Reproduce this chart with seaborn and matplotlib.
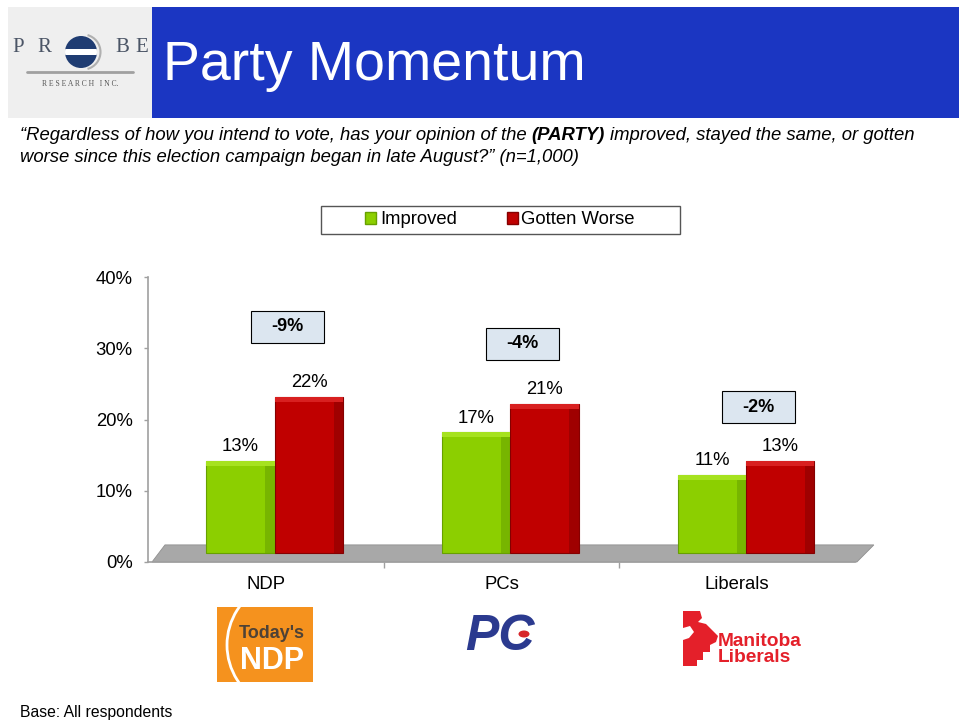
import matplotlib
matplotlib.use("Agg")
import matplotlib.pyplot as plt
import seaborn as sns
import pandas as pd
from matplotlib.patches import Rectangle, Polygon, Patch, Circle, Arc, Ellipse

# ---- data ----
parties = ["NDP", "PCs", "Liberals"]
series = ["Improved", "Gotten Worse"]
improved = [13, 17, 11]
worse = [22, 21, 13]
y_ticks = [0, 10, 20, 30, 40]

# heights of the difference boxes (layout only)
box_y = [33.0, 30.6, 21.7]

df = pd.DataFrame({
    "party": parties * 2,
    "response": [series[0]] * 3 + [series[1]] * 3,
    "pct": improved + worse,
})

GREEN, GREEN_D, GREEN_L = "#8CCF00", "#67A000", "#A6E21F"
RED, RED_D, RED_L = "#C00000", "#850000", "#D82020"
GRAY = "#A0A0A0"

sns.set_theme(style="white")
plt.rcParams["font.family"] = ["Liberation Sans", "DejaVu Sans"]
plt.rcParams["text.color"] = "black"
plt.rcParams["xtick.color"] = "black"
plt.rcParams["ytick.color"] = "black"

W, H = 959, 721
fig = plt.figure(figsize=(W / 100, H / 100), dpi=100)

# overlay in pixel coordinates for header, logos, legend frame
ov = fig.add_axes([0, 0, 1, 1], zorder=-1)
ov.set_xlim(0, W)
ov.set_ylim(H, 0)
ov.axis("off")

# ==========================
# MAIN CHART
# ==========================
ax = fig.add_axes([148 / W, 1 - 562 / H, (855 - 148) / W, (562 - 277) / H])
ax.patch.set_alpha(0)

sns.barplot(data=df, x="party", y="pct", hue="response", hue_order=series,
            palette=[GREEN, RED], width=0.58, saturation=1, legend=False, ax=ax)

BASE = 1.2     # bars stand on the 3D floor
SHIFT = 0.038  # perspective offset

for cont, dark, light in zip(ax.containers, [GREEN_D, RED_D], [GREEN_L, RED_L]):
    for bar in list(cont):
        bar.set_y(BASE)
        bar.set_x(bar.get_x() + SHIFT)
        bar.set_edgecolor(dark)
        bar.set_linewidth(0.8)
        bar.set_zorder(3)
        x0, w, h = bar.get_x(), bar.get_width(), bar.get_height()
        ax.add_patch(Rectangle((x0 + w * 0.86, BASE), w * 0.14, h, fc=dark,
                               ec="none", alpha=0.55, zorder=3.1))
        ax.add_patch(Rectangle((x0, BASE + h - 0.7), w, 0.7, fc=light,
                               ec="none", zorder=3.1))
        ax.text(x0 + w / 2, BASE + h + 2.0, f"{h:.0f}%", ha="center", va="center",
                fontsize=13.3, color="black", zorder=4)

# floor
ax.add_patch(Polygon([(-0.483, 0), (-0.428, 2.4), (2.58, 2.4), (2.508, 0)],
                     closed=True, fc="#A8A8A8", ec="#909090", lw=0.6,
                     clip_on=False, zorder=1))

# difference boxes
for i, (a, b) in enumerate(zip(improved, worse)):
    cx, cy = i + 0.09, box_y[i]
    ax.add_patch(Rectangle((cx - 0.155, cy - 2.25), 0.31, 4.5, fc="#DCE6F0",
                           ec="black", lw=0.8, zorder=4))
    ax.text(cx, cy, f"{a - b}%", ha="center", va="center", fontsize=13,
            fontweight="bold", zorder=5)

ax.set_xlim(-0.5, 2.5)
ax.set_ylim(0, 40)
ax.set_xlabel("")
ax.set_ylabel("")
ax.set_yticks(y_ticks)
ax.set_yticklabels([f"{v}%" for v in y_ticks])
ax.set_xticks(range(len(parties)))
ax.set_xticklabels(parties)
ax.set_xticks([0.5, 1.5], minor=True)
ax.tick_params(axis="y", left=True, length=3, width=1, color=GRAY, pad=8,
               labelsize=13.3, labelcolor="black")
ax.tick_params(axis="x", which="major", length=0, pad=10, labelsize=13.3,
               labelcolor="black")
ax.tick_params(axis="x", which="minor", bottom=True, length=4, width=1, color=GRAY)
for s in ["top", "right"]:
    ax.spines[s].set_visible(False)
for s in ["left", "bottom"]:
    ax.spines[s].set_color(GRAY)
    ax.spines[s].set_linewidth(1.2)

# legend
ov.add_patch(Rectangle((321, 206), 359, 28, fc="white", ec="#555555", lw=1))
handles = [Patch(fc=GREEN, ec=GREEN_D), Patch(fc=RED, ec=RED_D)]
fig.legend(handles, series, loc="center", bbox_to_anchor=(500 / W, 1 - 220 / H),
           ncol=2, frameon=False, fontsize=13.3, handlelength=0.6,
           handleheight=0.6, handletextpad=0.2, columnspacing=2.7)

# ==========================
# HEADER
# ==========================
ov.add_patch(Rectangle((8, 7), 144, 111, fc="#EFEFEF", ec="none"))
ov.add_patch(Rectangle((152, 7), 807, 111, fc="#1B36C2", ec="none"))
ov.text(163, 66, "Party Momentum", color="white", fontsize=40, va="center")

# probe logo
for ch, x in zip("PRBE", [18, 44, 122, 142]):
    ov.text(x, 47, ch, family="Liberation Serif", fontsize=15, color="#4B5566",
            ha="center", va="center")
circ = Circle((81, 52), 16, fc="#1F3C72", ec="none")
ov.add_patch(circ)
band = Rectangle((64, 49), 34, 6, fc="white", ec="none")
ov.add_patch(band)
band.set_clip_path(circ)
ov.add_patch(Arc((83, 52), 35, 35, theta1=-75, theta2=75, color="#B0B0B0", lw=1.5))
ov.plot([27, 133], [72, 72], color="#A0A0A0", lw=2)
ov.text(80, 84, "R E S E A R C H   I N C.", family="Liberation Serif",
        fontsize=5.5, color="#555555", ha="center", va="center")

# question text (with bold (PARTY))
q_size = 13.3
t1 = ov.text(20, 135, "\u201cRegardless of how you intend to vote, has your opinion of the",
             fontsize=q_size, style="italic", va="center")
fig.canvas.draw()
sp = 5
x = t1.get_window_extent().x1 + sp
t2 = ov.text(x, 135, "(PARTY)", fontsize=q_size, style="italic", fontweight="bold",
             va="center")
fig.canvas.draw()
x = t2.get_window_extent().x1 + sp
ov.text(x, 135, "improved, stayed the same, or gotten", fontsize=q_size,
        style="italic", va="center")
ov.text(20, 157, "worse since this election campaign began in late August?\u201d (n=1,000)",
        fontsize=q_size, style="italic", va="center")

# ==========================
# PARTY LOGOS
# ==========================
ndp_box = Rectangle((217, 607), 96, 75, fc="#F5921E", ec="none")
ov.add_patch(ndp_box)
ndp_arc = Arc((292, 645), 130, 130, theta1=115, theta2=245, color="white", lw=2)
ov.add_patch(ndp_arc)
ndp_arc.set_clip_path(ndp_box)
ov.text(272, 633, "Today's", fontsize=13, fontweight="bold", color="#4E4236",
        ha="center", va="center")
ov.text(272, 661, "NDP", fontsize=22, fontweight="bold", color="white",
        ha="center", va="center")

ov.text(500, 637, "PC", fontsize=36, fontweight="heavy", style="italic",
        color="#2B3A8F", ha="center", va="center")
ov.add_patch(Ellipse((524, 634), 11, 7, fc="#D7262B", ec="none"))

ov.add_patch(Polygon([(683, 611), (700, 611), (702, 618), (698, 622), (706, 624),
                      (712, 630), (718, 636), (716, 642), (710, 645), (710, 652),
                      (703, 652), (703, 660), (697, 660), (697, 666), (683, 666)],
                     closed=True, fc="#E4202A", ec="none"))
ov.add_patch(Polygon([(683, 628), (690, 626), (694, 632), (689, 638), (683, 640)],
                     closed=True, fc="white", ec="none"))
ov.text(718, 641, "Manitoba", fontsize=13.8, fontweight="bold", color="#E4202A",
        va="center")
ov.text(718, 658, "Liberals", fontsize=13.8, fontweight="bold", color="#E4202A",
        va="center")

ov.text(20, 713, "Base: All respondents", fontsize=11.3, va="center")

fig.savefig("out.png", dpi=100)
